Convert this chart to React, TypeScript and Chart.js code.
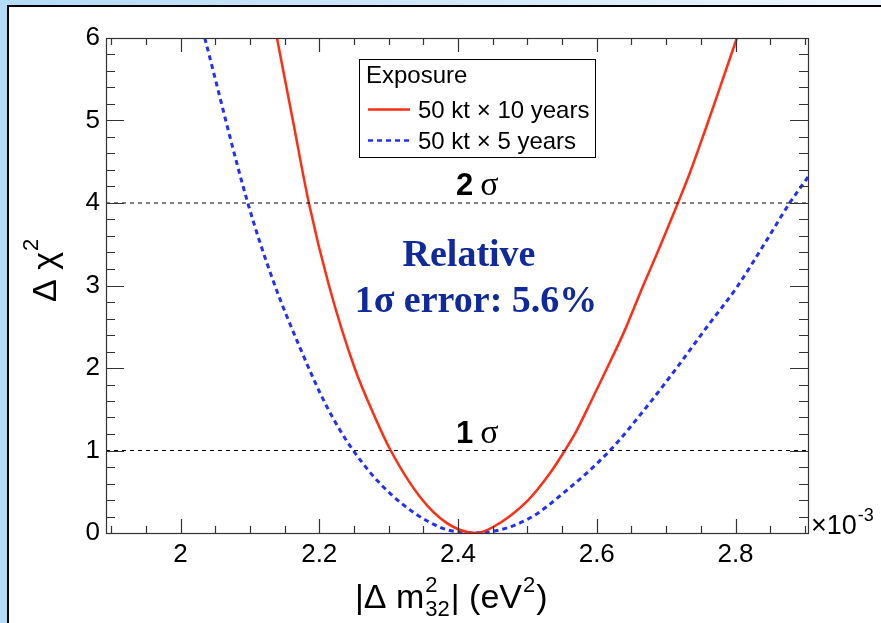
import { useEffect, useRef } from 'react';
import { Chart, registerables } from 'chart.js';

Chart.register(...registerables);

// ---- data (x in units of 1e-3 eV^2) ----
const redX = [2.139, 2.162, 2.185, 2.214, 2.251, 2.280, 2.303, 2.345, 2.384, 2.425, 2.450, 2.499, 2.533, 2.554, 2.569, 2.592, 2.615, 2.640, 2.667, 2.691, 2.717, 2.734, 2.757, 2.778, 2.802];
const redY = [6.0, 5.0, 4.0, 3.0, 2.0, 1.41, 1.0, 0.44, 0.12, 0.0, 0.07, 0.38, 0.73, 1.0, 1.21, 1.6, 2.0, 2.45, 3.0, 3.47, 4.0, 4.36, 4.9, 5.41, 6.0];
const blueX = [2.035, 2.097, 2.133, 2.172, 2.211, 2.249, 2.302, 2.374, 2.425, 2.499, 2.557, 2.619, 2.672, 2.716, 2.759, 2.802, 2.845, 2.878, 2.905];
const blueY = [6.0, 4.0, 3.07, 2.25, 1.53, 1.0, 0.48, 0.07, 0.0, 0.16, 0.52, 1.0, 1.53, 2.01, 2.50, 2.98, 3.55, 4.0, 4.32];
const sigmaLevels = [1, 4];
const sigmaNumbers = ['1', '2'];
const seriesLabels = ['50 kt \u00d7 10 years', '50 kt \u00d7 5 years'];
const legendTitle = 'Exposure';
const xTickLabels = ['2', '2.2', '2.4', '2.6', '2.8'];
const yTickLabels = ['0', '1', '2', '3', '4', '5', '6'];
const noteLines = ['Relative', '1\u03c3 error: 5.6%'];

const X_MIN = 1.8926;
const X_MAX = 2.9045;
const Y_MIN = 0;
const Y_MAX = 6;

const SANS = "'Liberation Sans', Arial, Helvetica, sans-serif";
const SERIF = "'Liberation Serif', 'Times New Roman', serif";
const RED = '#ff2d12';
const BLUE = '#2230ff';
const NAVY = '#10299c';

const decorPlugin = {
  id: 'decor',
  beforeDraw(chart: any) {
    const ctx = chart.ctx;
    const W = chart.width, H = chart.height;
    ctx.save();
    const g = ctx.createLinearGradient(0, 0, W, 0);
    g.addColorStop(0, '#b4dbf7');
    g.addColorStop(1, '#eef7fe');
    ctx.fillStyle = g;
    ctx.fillRect(0, 0, W, H);
    ctx.fillStyle = '#ffffff';
    ctx.fillRect(9, 7, W - 9, H - 7);
    ctx.fillStyle = '#000000';
    ctx.fillRect(7, 5, 2, H - 5);
    ctx.fillRect(7, 5, W - 7, 2);
    ctx.restore();
  },
  afterDatasetsDraw(chart: any) {
    const ctx = chart.ctx;
    const xs = chart.scales.x, ys = chart.scales.y;
    const { left, right, top, bottom } = chart.chartArea;
    ctx.save();
    ctx.strokeStyle = '#333333';
    ctx.lineWidth = 1.2;
    ctx.strokeRect(Math.round(left) + 0.5, Math.round(top) + 0.5, Math.round(right - left), Math.round(bottom - top));
    for (let i = 0; i <= 40; i++) {
      const v = 1.9 + i * 0.05;
      if (v > X_MAX + 1e-9) break;
      const px = Math.round(xs.getPixelForValue(v)) + 0.5;
      const major = Math.abs(v / 0.2 - Math.round(v / 0.2)) < 1e-6;
      const len = major ? 14 : 7;
      ctx.beginPath();
      ctx.moveTo(px, bottom);
      ctx.lineTo(px, bottom - len);
      ctx.moveTo(px, top);
      ctx.lineTo(px, top + len);
      ctx.stroke();
    }
    for (let i = 0; i <= 30; i++) {
      const v = i * 0.2;
      const py = Math.round(ys.getPixelForValue(v)) + 0.5;
      const major = i % 5 === 0;
      const len = major ? 18 : 9;
      ctx.beginPath();
      ctx.moveTo(left, py);
      ctx.lineTo(left + len, py);
      ctx.moveTo(right, py);
      ctx.lineTo(right - len, py);
      ctx.stroke();
    }
    ctx.restore();
  },
  afterDraw(chart: any) {
    const ctx = chart.ctx;
    const ys = chart.scales.y;
    const { right } = chart.chartArea;
    ctx.save();
    ctx.fillStyle = '#000000';
    ctx.textAlign = 'left';
    ctx.textBaseline = 'alphabetic';

    // x10^-3
    ctx.font = `27px ${SANS}`;
    ctx.fillText('\u00d710', right + 3, 534);
    const w10 = ctx.measureText('\u00d710').width;
    ctx.font = `18px ${SANS}`;
    ctx.fillText('-3', right + 3 + w10 + 1, 521);

    // sigma labels
    sigmaLevels.forEach((lv, i) => {
      const py = ys.getPixelForValue(lv);
      ctx.font = `bold 31px ${SANS}`;
      const x0 = 456;
      ctx.fillText(sigmaNumbers[i], x0, py - 8);
      const wn = ctx.measureText(sigmaNumbers[i]).width;
      ctx.font = `34px ${SERIF}`;
      ctx.fillText('\u03c3', x0 + wn + 7, py - 8);
    });

    // note text
    ctx.fillStyle = NAVY;
    ctx.textAlign = 'center';
    ctx.font = `bold 38px ${SERIF}`;
    ctx.fillText(noteLines[0], 469, 266);
    ctx.fillText(noteLines[1], 476, 312);

    // legend
    ctx.textAlign = 'left';
    ctx.fillStyle = '#ffffff';
    ctx.fillRect(359, 59, 237, 99);
    ctx.strokeStyle = '#000000';
    ctx.lineWidth = 1;
    ctx.strokeRect(359.5, 59.5, 236, 98);
    ctx.fillStyle = '#000000';
    ctx.font = `24px ${SANS}`;
    ctx.fillText(legendTitle, 366, 83);
    ctx.fillText(seriesLabels[0], 418, 118);
    ctx.fillText(seriesLabels[1], 418, 149);
    ctx.lineWidth = 2.5;
    ctx.strokeStyle = RED;
    ctx.beginPath();
    ctx.moveTo(368, 109.5);
    ctx.lineTo(410, 109.5);
    ctx.stroke();
    ctx.strokeStyle = BLUE;
    ctx.setLineDash([5, 4]);
    ctx.beginPath();
    ctx.moveTo(368, 140.5);
    ctx.lineTo(410, 140.5);
    ctx.stroke();
    ctx.setLineDash([]);

    // y title: Δ χ^2 (rotated)
    ctx.save();
    ctx.translate(56, 302);
    ctx.rotate(-Math.PI / 2);
    ctx.font = `34px ${SANS}`;
    ctx.fillText('\u0394 \u03c7', 0, 0);
    const wy = ctx.measureText('\u0394 \u03c7').width;
    ctx.font = `22px ${SANS}`;
    ctx.fillText('2', wy + 1, -18);
    ctx.restore();

    // x title: |Δ m^2_32| (eV^2)
    let x = 355;
    const base = 608;
    ctx.font = `34px ${SANS}`;
    ctx.fillText('|\u0394 m', x, base);
    x += ctx.measureText('|\u0394 m').width + 1;
    ctx.font = `22px ${SANS}`;
    ctx.fillText('2', x, base - 16);
    ctx.fillText('32', x, base + 8);
    x += ctx.measureText('32').width + 1;
    ctx.font = `34px ${SANS}`;
    ctx.fillText('| (eV', x, base);
    x += ctx.measureText('| (eV').width + 1;
    ctx.font = `22px ${SANS}`;
    ctx.fillText('2', x, base - 16);
    x += ctx.measureText('2').width + 1;
    ctx.font = `34px ${SANS}`;
    ctx.fillText(')', x, base);

    ctx.restore();
  },
};

export default function App() {
  const ref = useRef<HTMLCanvasElement | null>(null);
  useEffect(() => {
    if (!ref.current) return;
    const hLine = (lv: number) => ({
      data: [{ x: X_MIN, y: lv }, { x: X_MAX, y: lv }],
      borderColor: '#000000',
      borderWidth: 1,
      borderDash: [4, 4],
      pointRadius: 0,
      tension: 0,
    });
    const chart = new Chart(ref.current, {
      type: 'line',
      data: {
        datasets: [
          ...sigmaLevels.map(hLine),
          {
            label: seriesLabels[0],
            data: redX.map((x, i) => ({ x, y: redY[i] })),
            borderColor: RED,
            borderWidth: 2.5,
            pointRadius: 0,
            cubicInterpolationMode: 'monotone',
          },
          {
            label: seriesLabels[1],
            data: blueX.map((x, i) => ({ x, y: blueY[i] })),
            borderColor: BLUE,
            borderWidth: 3,
            borderDash: [5, 4],
            pointRadius: 0,
            cubicInterpolationMode: 'monotone',
          },
        ] as any,
      },
      options: {
        animation: false,
        responsive: false,
        devicePixelRatio: 1,
        layout: { padding: { left: 0, right: 73, top: 38, bottom: 0 } },
        plugins: { legend: { display: false }, tooltip: { enabled: false } },
        scales: {
          x: {
            type: 'linear',
            min: X_MIN,
            max: X_MAX,
            grid: { display: false, drawTicks: false },
            border: { display: false },
            ticks: {
              stepSize: 0.2,
              includeBounds: false,
              padding: 6,
              color: '#000000',
              font: { size: 26, family: SANS },
              maxRotation: 0,
              callback: (v: any) => {
                const idx = Math.round((Number(v) - 2.0) / 0.2);
                return xTickLabels[idx] ?? '';
              },
            },
            afterFit: (s: any) => { s.height = 90; },
          },
          y: {
            type: 'linear',
            min: Y_MIN,
            max: Y_MAX,
            grid: { display: false, drawTicks: false },
            border: { display: false },
            ticks: {
              stepSize: 1,
              padding: 6,
              color: '#000000',
              font: { size: 26, family: SANS },
              callback: (v: any) => yTickLabels[Math.round(Number(v))] ?? '',
            },
            afterFit: (s: any) => { s.width = 106; },
          },
        },
      } as any,
      plugins: [decorPlugin],
    });
    return () => chart.destroy();
  }, []);
  return (
    <div style={{ position: 'fixed', left: 0, top: 0, width: 881, height: 623 }}>
      <canvas ref={ref} width={881} height={623} style={{ display: 'block', width: 881, height: 623 }} />
    </div>
  );
}
